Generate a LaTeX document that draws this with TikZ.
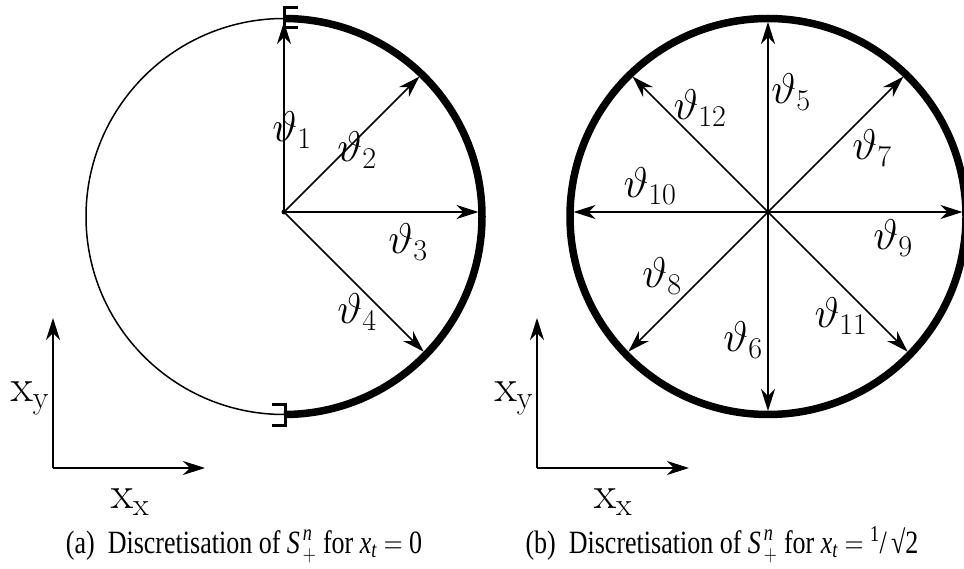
\RequirePackage{fix-cm}
\documentclass[tikz,border=0pt]{standalone}
\usepackage{amsmath}
\usepackage[no-math]{fontspec}
\setmainfont{Liberation Serif}
\usetikzlibrary{arrows.meta,calc}
\newcommand{\tallcap}[1]{\scalebox{1}[1.25]{#1}}
\begin{document}
\begin{tikzpicture}[x=1pt,y=1pt,
  vec/.style={line width=1.5pt,-{Stealth[length=22pt,width=14pt,inset=7pt]}},
  dvec/.style={line width=1.5pt,{Stealth[length=22pt,width=14pt,inset=7pt]}-{Stealth[length=22pt,width=14pt,inset=7pt]}},
  thin circ/.style={line width=1.5pt},
  thick circ/.style={line width=7.5pt},
  brk/.style={line width=3pt},
  lbl/.style={font=\fontsize{43}{50}\selectfont, inner sep=0pt},
  axlbl/.style={font=\fontsize{46}{52}\selectfont, inner sep=0pt},
  captxt/.style={font=\fontsize{26}{30}\selectfont, inner sep=0pt, anchor=base}]
\useasboundingbox (0,0) rectangle (964,568);
% ---------- left figure ----------
\coordinate (oL) at (284,356);
\coordinate (cL) at (284,351.5);
\draw[thin circ] (cL) circle[radius=198];
\coordinate (topL) at (284,549.5);
\draw[thick circ] (topL) arc[start angle=90, end angle=-90, radius=198];
\draw[brk] (298,560) -- (284.5,560) -- (284.5,540) -- (298,540);
\draw[brk] (272,163) -- (285.5,163) -- (285.5,142) -- (272,142);
\coordinate (t1) at ($(oL)+(90:190)$);
\coordinate (t2) at ($(oL)+(45:191.5)$);
\coordinate (t3) at ($(oL)+(0:194.5)$);
\coordinate (t4) at ($(oL)+(-45:197.5)$);
\draw[vec] (oL) -- (t1);
\draw[vec] (oL) -- (t2);
\draw[vec] (oL) -- (t3);
\draw[vec] (oL) -- (t4);
\fill (oL) circle[radius=2.5];
\node[lbl] (l1) at (292,438) {$\vartheta_1$};
\node[lbl] (l2) at (357,418) {$\vartheta_2$};
\node[lbl] (l3) at (408,326) {$\vartheta_3$};
\node[lbl] (l4) at (357,256) {$\vartheta_4$};
% axes left
\coordinate (aL) at (53,100);
\coordinate (ayL) at (53,250);
\coordinate (axL) at (205,100);
\draw[vec] (aL) -- (ayL);
\draw[vec] (aL) -- (axL);
\node[axlbl] (xyL) at (30,170) {$\mathrm{x}_{\mathrm{y}}$};
\node[axlbl] (xxL) at (130,66) {$\mathrm{x}_{\mathrm{x}}$};
% ---------- right figure ----------
\coordinate (oR) at (768,356);
\coordinate (cR) at (768,351.5);
\draw[thick circ] (cR) circle[radius=198];
\coordinate (r5) at ($(oR)+(90:190)$);
\coordinate (r6) at ($(oR)+(-90:199)$);
\coordinate (r9) at ($(oR)+(0:194.5)$);
\coordinate (r10) at ($(oR)+(180:194.5)$);
\coordinate (r7) at ($(oR)+(45:191.5)$);
\coordinate (r12) at ($(oR)+(135:191.5)$);
\coordinate (r8) at ($(oR)+(-135:197.5)$);
\coordinate (r11) at ($(oR)+(-45:197.5)$);
\draw[dvec] (r6) -- (r5);
\draw[dvec] (r10) -- (r9);
\draw[dvec] (r8) -- (r7);
\draw[dvec] (r11) -- (r12);
\fill (oR) circle[radius=2.5];
\node[lbl] (l5) at (791,476) {$\vartheta_5$};
\node[lbl] (l12) at (700,460) {$\vartheta_{12}$};
\node[lbl] (l7) at (872,420) {$\vartheta_7$};
\node[lbl] (l10) at (650,382) {$\vartheta_{10}$};
\node[lbl] (l9) at (893,330) {$\vartheta_9$};
\node[lbl] (l8) at (662,292) {$\vartheta_8$};
\node[lbl] (l11) at (841,252) {$\vartheta_{11}$};
\node[lbl] (l6) at (743,228) {$\vartheta_6$};
% axes right
\coordinate (aR) at (537,100);
\coordinate (ayR) at (537,250);
\coordinate (axR) at (689,100);
\draw[vec] (aR) -- (ayR);
\draw[vec] (aR) -- (axR);
\node[axlbl] (xyR) at (514,170) {$\mathrm{x}_{\mathrm{y}}$};
\node[axlbl] (xxR) at (613,66) {$\mathrm{x}_{\mathrm{x}}$};
% ---------- captions ----------
\node[captxt] (capA) at (244,15) {\tallcap{(a)\ \ Discretisation of $\text{\textit{S}}^{\,\text{\textit{n}}}_{\,+}$ for \textit{x}$_{\text{\textit{t}}}$ $=$ 0}};
\node[captxt] (capB) at (722,15) {\tallcap{(b)\ \ Discretisation of $\text{\textit{S}}^{\,\text{\textit{n}}}_{\,+}$ for \textit{x}$_{\text{\textit{t}}}$ $=$ \textsuperscript{1}/\,√2}};
\end{tikzpicture}
\end{document}
